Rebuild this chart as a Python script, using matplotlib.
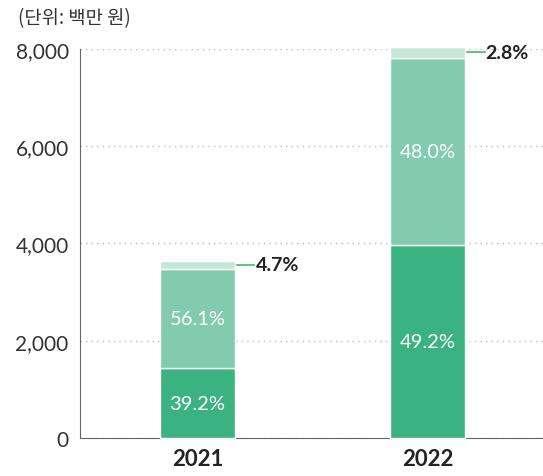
import numpy as np
import matplotlib.pyplot as plt

plt.rcParams['font.family'] = ['Lato', 'Noto Sans CJK KR', 'DejaVu Sans']

# data (백만 원)
years = ['2021', '2022']
bottom_vals = np.array([1430, 3960])
middle_vals = np.array([2047, 3864])
top_vals = np.array([172, 225])
bottom_pct = ['39.2%', '49.2%']
middle_pct = ['56.1%', '48.0%']
top_pct = ['4.7%', '2.8%']

colors = ['#3bb381', '#82cbae', '#c5e7d7']

fig = plt.figure(figsize=(5.43, 4.77), dpi=100)
ax = fig.add_axes([0.147, 0.080, 0.853, 0.815])

x = np.arange(len(years))
w = 0.326
ax.bar(x, bottom_vals, w, color=colors[0], edgecolor='white', linewidth=1, zorder=3, clip_on=False)
ax.bar(x, middle_vals, w, bottom=bottom_vals, color=colors[1], edgecolor='white', linewidth=1, zorder=3, clip_on=False)
ax.bar(x, top_vals, w, bottom=bottom_vals + middle_vals, color=colors[2], edgecolor='white', linewidth=1, zorder=3, clip_on=False)

for i in range(len(years)):
    ax.text(x[i], bottom_vals[i] / 2, bottom_pct[i], ha='center', va='center',
            color='white', fontsize=14.5, zorder=4)
    ax.text(x[i], bottom_vals[i] + middle_vals[i] / 2, middle_pct[i], ha='center', va='center',
            color='white', fontsize=14.5, zorder=4)
    yt = bottom_vals[i] + middle_vals[i] + top_vals[i] / 2
    ax.plot([x[i] + w / 2 + 0.01, x[i] + w / 2 + 0.085], [yt, yt], color='#3dbd6b', lw=1.2,
            clip_on=False, zorder=4)
    ax.text(x[i] + w / 2 + 0.09, yt, top_pct[i], ha='left', va='center',
            color='#222222', fontsize=14, fontweight='bold', zorder=4)

ax.set_xlim(-0.511, 1.502)
ax.set_ylim(0, 8000)
ax.set_yticks([0, 2000, 4000, 6000, 8000])
ax.set_yticklabels(['0', '2,000', '4,000', '6,000', '8,000'])
ax.set_xticks(x)
ax.set_xticklabels(years, fontsize=16, fontweight='bold', color='#222222')
ax.tick_params(axis='y', length=0, labelsize=15, colors='#333333', pad=8)
ax.tick_params(axis='x', length=0, pad=7)

ax.grid(axis='y', linestyle=(0, (1, 3)), color='#bbbbbb', linewidth=1, zorder=0)
ax.spines['top'].set_visible(False)
ax.spines['right'].set_visible(False)
ax.spines['left'].set_color('#666666')
ax.spines['bottom'].set_color('#666666')

fig.text(0.033, 0.962, '(단위: 백만 원)', ha='left', va='center', fontsize=13.5, color='#333333',
         family=['Noto Sans CJK KR', 'DejaVu Sans'])

fig.savefig('out.png', dpi=100)
